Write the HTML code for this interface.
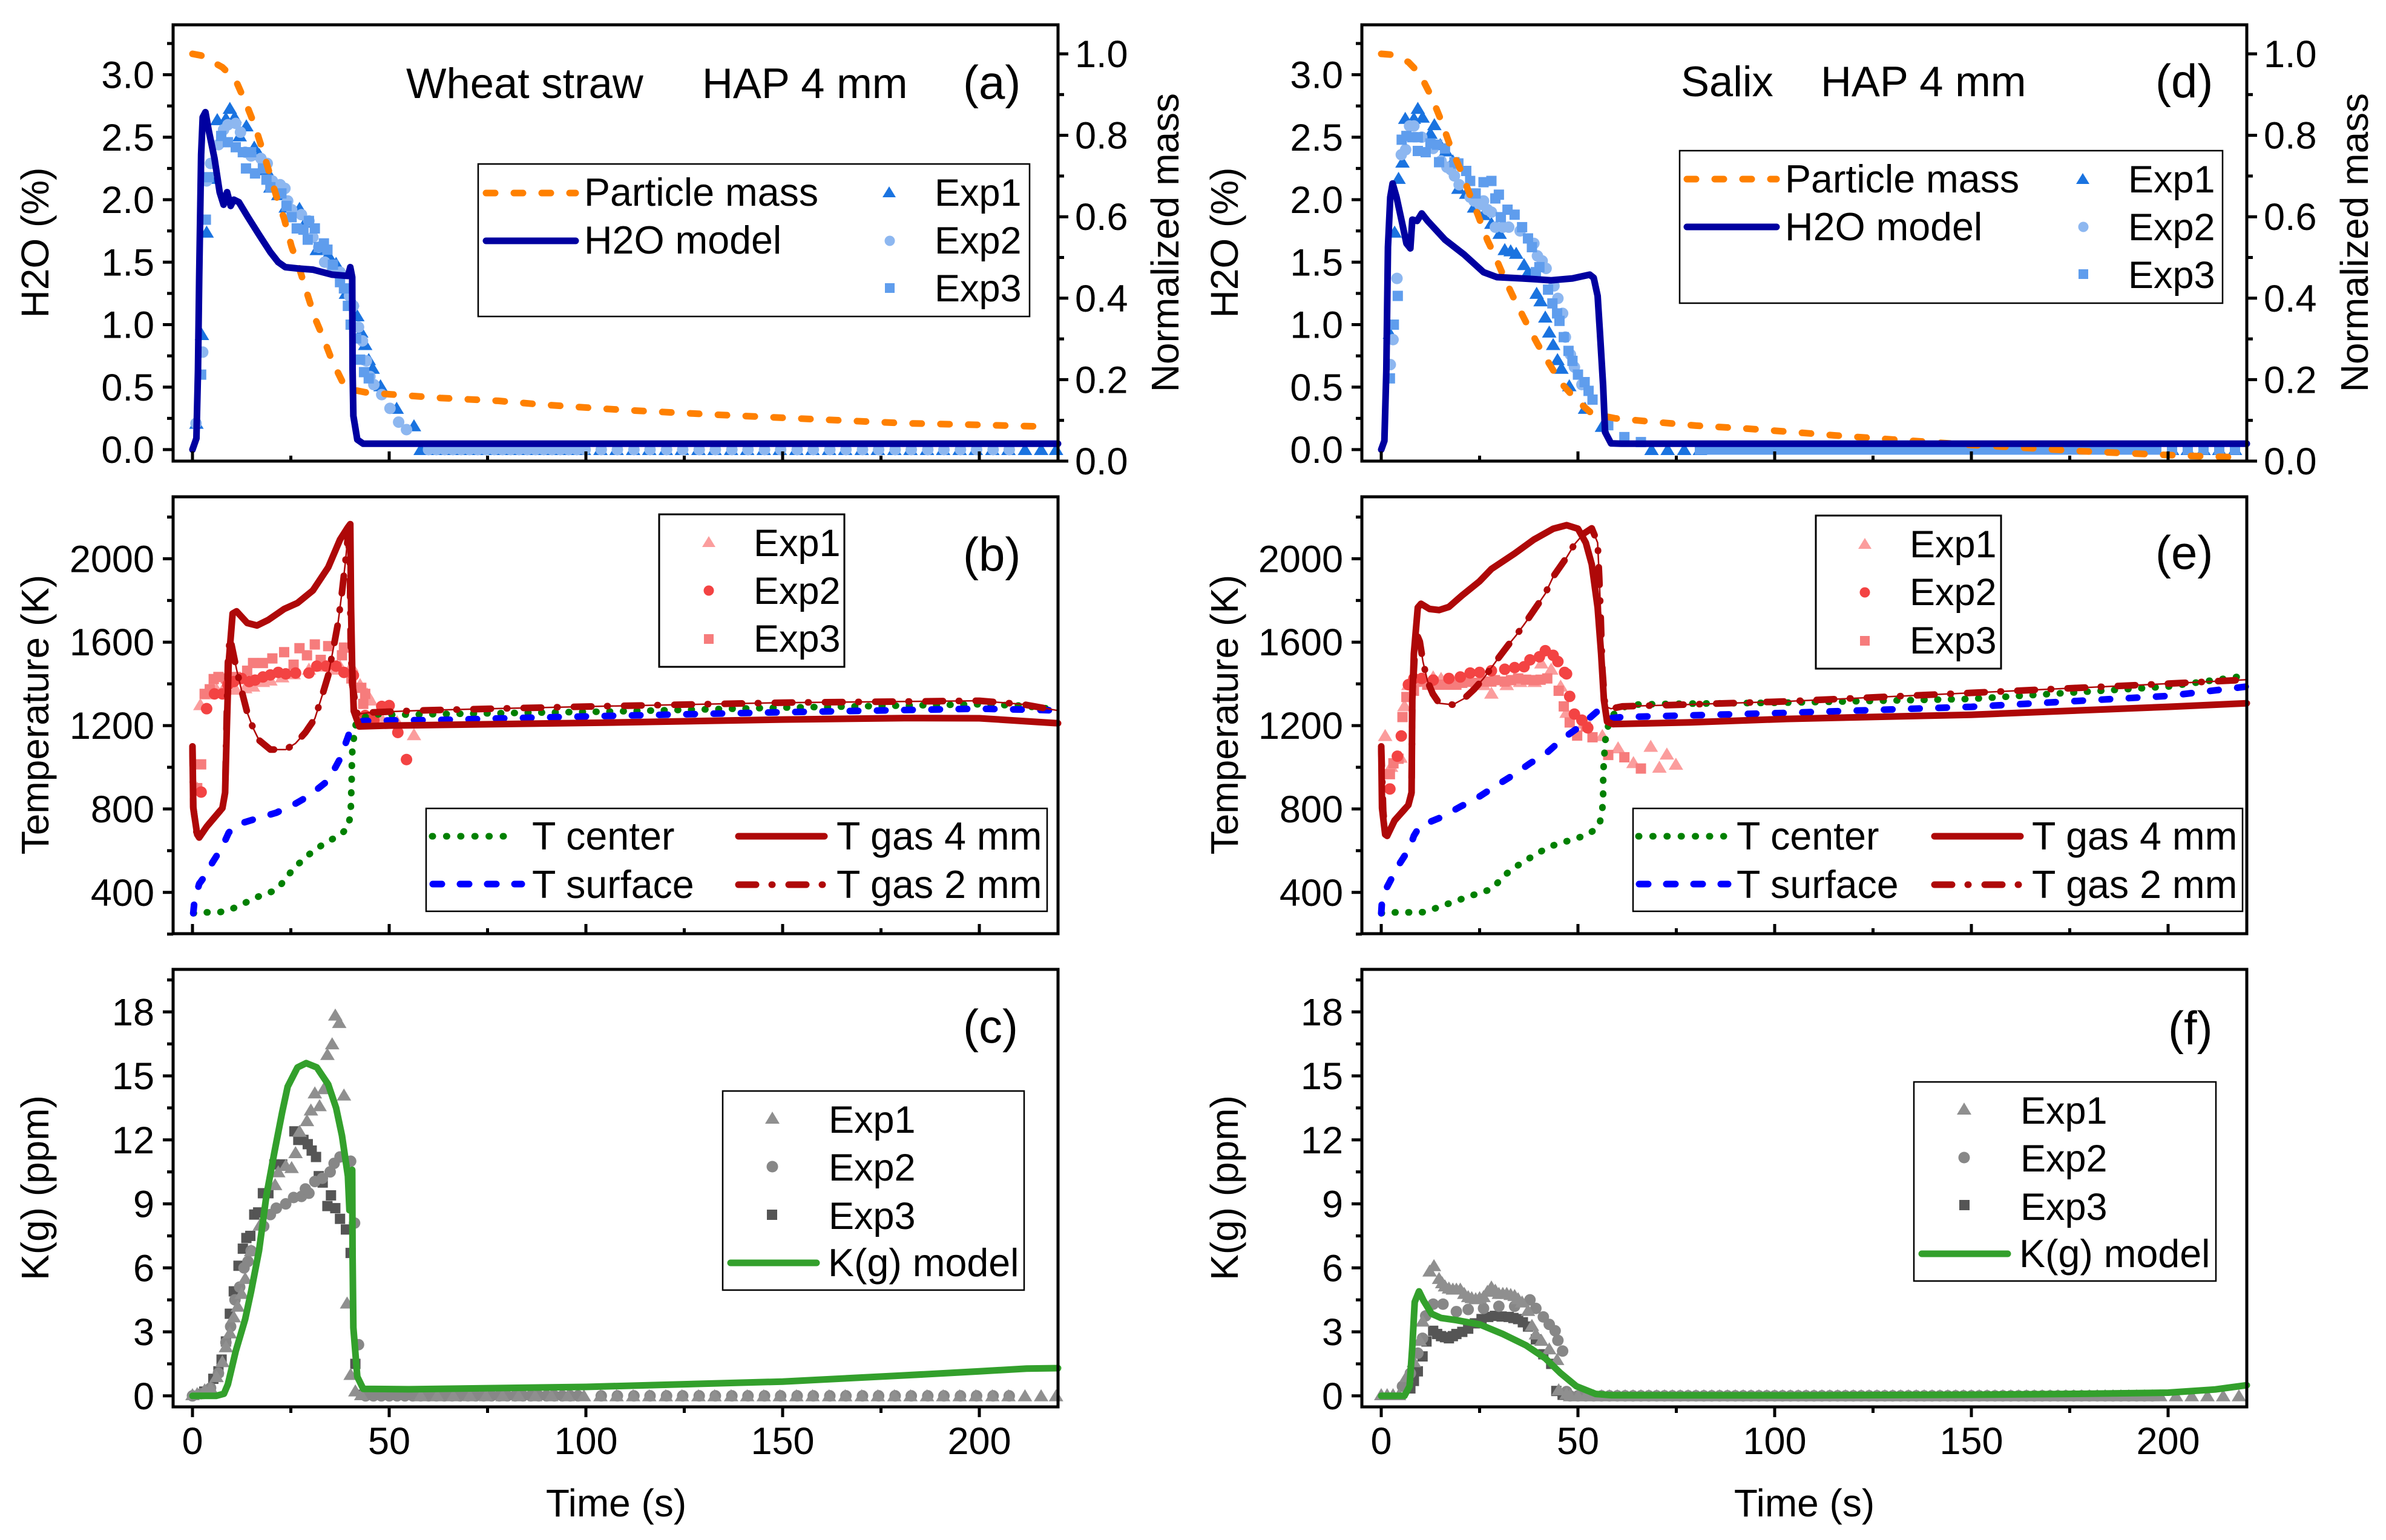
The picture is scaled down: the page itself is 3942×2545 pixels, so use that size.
<!DOCTYPE html>
<html lang="en">
<head>
<meta charset="utf-8">
<title>H2O, temperature and K(g) profiles for wheat straw and salix</title>
<style>
html,body{margin:0;padding:0;background:#fff;}
svg{display:block;}
text{font-family:"Liberation Sans",Arial,sans-serif;fill:#000;}
.t{font-size:63px;}
.lt{font-size:64.5px;}
.at{font-size:64px;}
.an{font-size:78px;}
.ti{font-size:70.5px;}
.lg{fill:#fff;stroke:#000;stroke-width:2.5;}
.ls{fill:none;stroke-linecap:round;stroke-linejoin:round;stroke-width:11;}
</style>
</head>
<body>
<svg id="fig" xmlns="http://www.w3.org/2000/svg" width="3942" height="2545" viewBox="0 0 3942 2545">
<rect width="3942" height="2545" fill="#fff"/>
<g id="plots"></g>

<!-- static titles -->
<text class="at" transform="translate(80 401) rotate(-90)" text-anchor="middle">H2O (%)</text>
<text class="at" transform="translate(80 1181) rotate(-90)" text-anchor="middle">Temperature (K)</text>
<text class="at" transform="translate(80 1963) rotate(-90)" text-anchor="middle">K(g) (ppm)</text>
<text class="at" transform="translate(2045 401) rotate(-90)" text-anchor="middle">H2O (%)</text>
<text class="at" transform="translate(2045 1181) rotate(-90)" text-anchor="middle">Temperature (K)</text>
<text class="at" transform="translate(2045 1963) rotate(-90)" text-anchor="middle">K(g) (ppm)</text>
<text class="at" transform="translate(1947 401) rotate(-90)" text-anchor="middle">Normalized mass</text>
<text class="at" transform="translate(3912 401) rotate(-90)" text-anchor="middle">Normalized mass</text>
<text class="at" x="1018" y="2506" text-anchor="middle">Time (s)</text>
<text class="at" x="2981" y="2506" text-anchor="middle">Time (s)</text>

<!-- annotations -->
<text class="ti" x="671" y="162">Wheat straw</text>
<text class="ti" x="1160" y="162">HAP 4 mm</text>
<text class="an" x="1591" y="163">(a)</text>
<text class="an" x="1591" y="943">(b)</text>
<text class="an" x="1591" y="1723">(c)</text>
<text class="ti" x="2777" y="159">Salix</text>
<text class="ti" x="3008" y="159">HAP 4 mm</text>
<text class="an" x="3561" y="161">(d)</text>
<text class="an" x="3561" y="940">(e)</text>
<text class="an" x="3582" y="1726">(f)</text>

<!-- legend a -->
<g>
<rect class="lg" x="790" y="271" width="911" height="252"/>
<path class="ls" d="M803 319H951" stroke="#ff8000" stroke-dasharray="15 31"/>
<path class="ls" d="M803 398H951" stroke="#0000a0"/>
<text class="lt" x="965" y="340">Particle mass</text>
<text class="lt" x="965" y="419">H2O model</text>
<polygon points="1469,308 1480,326 1458,326" fill="#1a73e0"/>
<circle cx="1470" cy="398" r="8.5" fill="#8db7f0"/>
<rect x="1462" y="468" width="16" height="16" fill="#5f9ded"/>
<text class="t" x="1544" y="340">Exp1</text>
<text class="t" x="1544" y="419">Exp2</text>
<text class="t" x="1544" y="498">Exp3</text>
</g>

<!-- legend d -->
<g>
<rect class="lg" x="2775" y="249" width="897" height="252"/>
<path class="ls" d="M2787 296H2935" stroke="#ff8000" stroke-dasharray="15 31"/>
<path class="ls" d="M2787 375H2935" stroke="#0000a0"/>
<text class="lt" x="2949" y="318">Particle mass</text>
<text class="lt" x="2949" y="397">H2O model</text>
<polygon points="3441,286 3452,304 3430,304" fill="#1a73e0"/>
<circle cx="3442" cy="375" r="8.5" fill="#8db7f0"/>
<rect x="3434" y="445" width="16" height="16" fill="#5f9ded"/>
<text class="t" x="3516" y="318">Exp1</text>
<text class="t" x="3516" y="397">Exp2</text>
<text class="t" x="3516" y="476">Exp3</text>
</g>

<!-- legend b experiments -->
<g>
<rect class="lg" style="stroke-width:3" x="1089" y="850" width="306" height="252"/>
<polygon points="1171,886 1182,904 1160,904" fill="#fb9d9d"/>
<circle cx="1171" cy="976" r="8.5" fill="#f34343"/>
<rect x="1163" y="1048" width="16" height="16" fill="#f67c7c"/>
<text class="t" x="1245" y="919">Exp1</text>
<text class="t" x="1245" y="998">Exp2</text>
<text class="t" x="1245" y="1077">Exp3</text>
</g>

<!-- legend b model -->
<g>
<rect class="lg" x="704" y="1336" width="1026" height="170"/>
<path class="ls" d="M714 1382H854" stroke="#008000" stroke-dasharray="1 22.4"/>
<path class="ls" d="M715 1461H862" stroke="#0000ff" stroke-dasharray="15 30"/>
<text class="lt" x="879" y="1404">T center</text>
<text class="lt" x="879" y="1484">T surface</text>
<path class="ls" d="M1220 1382H1362" stroke="#ae0808"/>
<path class="ls" d="M1220 1462H1362" stroke="#ae0808" stroke-dasharray="29 26 1 27"/>
<text class="lt" x="1382" y="1404">T gas 4 mm</text>
<text class="lt" x="1382" y="1484">T gas 2 mm</text>
</g>

<!-- legend e experiments -->
<g>
<rect class="lg" style="stroke-width:3" x="3000" y="852" width="306" height="253"/>
<polygon points="3081,889 3092,907 3070,907" fill="#fb9d9d"/>
<circle cx="3081" cy="979" r="8.5" fill="#f34343"/>
<rect x="3073" y="1051" width="16" height="16" fill="#f67c7c"/>
<text class="t" x="3155" y="921">Exp1</text>
<text class="t" x="3155" y="1000">Exp2</text>
<text class="t" x="3155" y="1080">Exp3</text>
</g>

<!-- legend e model -->
<g>
<rect class="lg" x="2698" y="1336" width="1007" height="170"/>
<path class="ls" d="M2707 1382H2848" stroke="#008000" stroke-dasharray="1 22.4"/>
<path class="ls" d="M2708 1461H2855" stroke="#0000ff" stroke-dasharray="15 30"/>
<text class="lt" x="2869" y="1404">T center</text>
<text class="lt" x="2869" y="1484">T surface</text>
<path class="ls" d="M3196 1382H3338" stroke="#ae0808"/>
<path class="ls" d="M3196 1462H3338" stroke="#ae0808" stroke-dasharray="29 26 1 27"/>
<text class="lt" x="3357" y="1404">T gas 4 mm</text>
<text class="lt" x="3357" y="1484">T gas 2 mm</text>
</g>

<!-- legend c -->
<g>
<rect class="lg" x="1194" y="1803" width="498" height="329"/>
<polygon points="1276,1837 1288,1857 1264,1857" fill="#8f8f8f"/>
<circle cx="1276" cy="1928" r="9.5" fill="#878787"/>
<rect x="1267" y="1999" width="17" height="17" fill="#555"/>
<path class="ls" d="M1207 2087H1349" stroke="#33a02c"/>
<text class="t" x="1369" y="1872">Exp1</text>
<text class="t" x="1369" y="1951">Exp2</text>
<text class="t" x="1369" y="2031">Exp3</text>
<text class="lt" x="1368" y="2109">K(g) model</text>
</g>

<!-- legend f -->
<g>
<rect class="lg" x="3162" y="1788" width="499" height="329"/>
<polygon points="3245,1822 3257,1842 3233,1842" fill="#8f8f8f"/>
<circle cx="3245" cy="1913" r="9.5" fill="#878787"/>
<rect x="3237" y="1983" width="17" height="17" fill="#555"/>
<path class="ls" d="M3175 2072H3317" stroke="#33a02c"/>
<text class="t" x="3338" y="1857">Exp1</text>
<text class="t" x="3338" y="1936">Exp2</text>
<text class="t" x="3338" y="2016">Exp3</text>
<text class="lt" x="3336" y="2094">K(g) model</text>
</g>
</svg>

<script>
/* ---------- tick labels ---------- */
const timeTicks=[0,50,100,150,200];
const timeMinor=[25,75,125,175];
const h2oTicks=["0.0","0.5","1.0","1.5","2.0","2.5","3.0"];
const h2oMinor=[0.25,0.75,1.25,1.75,2.25,2.75,3.25];
const massTicks=["0.0","0.2","0.4","0.6","0.8","1.0"];
const massMinor=[0.1,0.3,0.5,0.7,0.9];
const tempTicks=[400,800,1200,1600,2000];
const tempMinor=[200,600,1000,1400,1800,2200];
const kTicks=[0,3,6,9,12,15,18];
const kMinor=[1.5,4.5,7.5,10.5,13.5,16.5,19.5];

/* ---------- zero-level experimental tails [time, value] ---------- */
const tailSparse=[[58,0],[62.2,0],[66.3,0],[70.5,0],[74.6,0],[78.8,0],[82.9,0],[87.1,0],[91.2,0],[95.4,0],[99.5,0],[103.7,0],[107.8,0],[112,0],[116.1,0],[120.3,0],[124.4,0],[128.6,0],[132.7,0],[136.9,0],[141,0],[145.2,0],[149.3,0],[153.5,0],[157.6,0],[161.8,0],[165.9,0],[170.1,0],[174.2,0],[178.4,0],[182.5,0],[186.7,0],[190.8,0],[195,0],[199.1,0],[203.3,0],[207.4,0],[211.6,0],[215.7,0],[219.5,0]];
const tailPaired=[[60,0],[62,0],[64.1,0],[66.2,0],[68.3,0],[70.4,0],[72.5,0],[74.6,0],[76.7,0],[78.8,0],[80.9,0],[83,0],[85.1,0],[87.2,0],[89.3,0],[91.4,0],[93.5,0],[95.6,0],[97.7,0],[99.8,0],[103.9,0],[108,0],[112.2,0],[116.3,0],[120.5,0],[124.6,0],[128.8,0],[132.9,0],[137.1,0],[141.2,0],[145.4,0],[149.5,0],[153.7,0],[157.8,0],[162,0],[166.1,0],[170.3,0],[174.4,0],[178.6,0],[182.7,0],[186.9,0],[191,0],[195.2,0],[199.3,0],[203.5,0],[207.6,0]];
const tailEarlyK=[[44,0],[46,0],[48,0],[50,0],[52,0],[54,0],[56,0],[58,0],[60,0],[62,0],[64,0],[66,0],[68,0],[70,0],[72,0],[74,0],[76,0],[78,0],[80,0],[82,0],[84,0],[86,0],[88,0],[90,0],[92,0],[94,0],[96,0],[98,0]];
const tailBand=[[48,0],[50,0],[52,0],[54,0],[56,0],[58,0],[60,0],[62,0],[64,0],[66,0],[68,0],[70,0],[72,0],[74,0],[76,0],[78,0],[80,0],[82,0],[84,0],[86,0],[88,0],[90,0],[92,0],[94,0],[96,0],[98,0],[100,0],[102,0],[104,0],[106,0],[108,0],[110,0],[112,0],[114,0],[116,0],[118,0],[120,0],[122,0],[124,0],[126,0],[128,0],[130,0],[132,0],[134,0],[136,0],[138,0],[140,0],[142,0],[144,0],[146,0],[148,0],[150,0],[152,0],[154,0],[156,0],[158,0],[160,0],[162,0],[164,0],[166,0],[168,0],[170,0],[172,0],[174,0],[176,0],[178,0],[180,0],[182,0],[184,0],[186,0],[188,0],[190,0],[192,0],[194,0],[196,0]];
const tailBandD=[[81,0],[83,0],[85,0],[87,0],[89,0],[91,0],[93,0],[95,0],[97,0],[99,0],[101,0],[103,0],[105,0],[107,0],[109,0],[111,0],[113,0],[115,0],[117,0],[119,0],[121,0],[123,0],[125,0],[127,0],[129,0],[131,0],[133,0],[135,0],[137,0],[139,0],[141,0],[143,0],[145,0],[147,0],[149,0],[151,0],[153,0],[155,0],[157,0],[159,0],[161,0],[163,0],[165,0],[167,0],[169,0],[171,0],[173,0],[175,0],[177,0],[179,0],[181,0],[183,0],[185,0],[187,0],[189,0],[191,0],[193,0],[195,0],[197,0],[201,0],[205,0],[209,0],[213,0],[217,0]];
const tailEndD=[[68.7,0],[72.8,0],[77,0],[81,0],[201,0],[205,0],[209,0],[213,0],[217,0]];
const tailEndF=[[198,0],[202,0],[206,0],[210,0],[214,0],[218,0]];

/* ---------- panel a: wheat straw, H2O and mass ---------- */
const aExp1=[[1,.21],[2.4,.92],[3.6,1.74],[4.6,2.17],[6.3,2.64],[8.5,2.65],[9.5,2.73],[10.7,2.66],[12,2.51],[13.7,2.59],[15.7,2.42],[17,2.36],[18.8,2.24],[19.8,2.1],[21.8,2.04],[23.7,1.94],[27.2,1.93],[28.7,1.82],[31.6,1.6],[34.5,1.56],[36.5,1.49],[37.5,1.42],[39,1.25],[40.6,1.19],[41.9,1.07],[42.9,.94],[43.9,.84],[44.8,.72],[45.8,.65],[47.8,.51],[51.9,.33],[56.3,.19]];
const aExp2=[[.9,.21],[2.6,.78],[3.6,2.15],[4.6,2.29],[6.6,2.44],[7.9,2.56],[9,2.6],[11,2.61],[12.2,2.54],[13.4,2.38],[14.9,2.35],[17.4,2.33],[19,2.29],[20.3,2.15],[22.3,2.12],[23.5,2.09],[24.2,1.99],[25.2,1.92],[27.7,1.88],[29.6,1.83],[30.6,1.7],[32.1,1.62],[33.6,1.5],[35.5,1.46],[37.5,1.42],[39.9,1.23],[40.9,1.15],[42.2,.98],[43.2,.87],[44.2,.71],[45.1,.585],[46.1,.52],[48.1,.44],[50.2,.33],[52.4,.22],[54.4,.16]];
const aExp3=[[2.2,.6],[3.4,1.84],[4.1,2.18],[7.3,2.51],[9,2.46],[11,2.42],[12.8,2.38],[14.9,2.38],[13.6,2.25],[15.9,2.21],[17.9,2.25],[18.8,2.16],[19.8,2.1],[22.6,2.05],[23.9,1.95],[25.2,1.86],[26.5,1.77],[28.2,1.76],[29.6,1.83],[31.1,1.77],[29.3,1.68],[32.1,1.62],[33.4,1.65],[34.3,1.6],[35.7,1.48],[37.5,1.34],[38.5,1.29],[39.5,1.15],[40.2,1],[41.6,.89],[42.6,.72],[43.6,.62],[44.8,.57]];
const aMass=[[0,1],[2.2,.996],[7.6,.967],[11,.935],[13.9,.871],[15.9,.822],[17.9,.761],[19.8,.7],[21.3,.651],[23.3,.595],[25.2,.526],[26.9,.481],[29.1,.413],[31.1,.352],[33.4,.299],[35.5,.246],[38,.197],[39.9,.177],[43.9,.169],[50.2,.164],[63,.155],[77.7,.148],[88.5,.139],[104,.129],[110.6,.125],[133,.114],[153,.105],[180.8,.093],[199.6,.089],[215.6,.085],[218,.084]];
const aH2O=[[0,0],[1,.09],[1.4,.63],[1.7,1.38],[2.2,2.36],[2.6,2.66],[3.3,2.7],[4.1,2.56],[5.6,2.33],[6.9,2.06],[7.9,1.96],[8.8,2.06],[9.7,1.95],[10.5,2],[11.8,1.98],[13.9,1.87],[16.9,1.72],[19.8,1.58],[21.8,1.5],[23.6,1.46],[26.7,1.45],[30.6,1.44],[35.5,1.4],[39.5,1.39],[40.1,1.46],[40.6,1.38],[40.7,.64],[40.9,.27],[41.9,.08],[43.4,.047],[100,.047],[220,.047]];

/* ---------- panel b: wheat straw, temperature ---------- */
const bExp1=[[1.2,900],[2,1300],[4.1,1352],[6.1,1374],[8,1381],[11,1374],[13.4,1381],[15.4,1389],[17.9,1411],[19.8,1418],[22.8,1433],[25.7,1448],[29.6,1470],[32.6,1485],[35.5,1470],[37.5,1485],[40.4,1485],[42.6,1396],[44.4,1352],[45.3,1322],[48.1,1233],[52,1218],[56.3,1156]];
const bExp2=[[2.2,881],[3.6,1281],[5.6,1352],[7.6,1352],[9,1396],[10.5,1411],[12.5,1426],[14.4,1411],[15.9,1418],[17.9,1433],[19.8,1443],[21.8,1455],[23.7,1448],[26.2,1452],[29.6,1452],[31.6,1485],[34,1485],[36.5,1485],[38.5,1455],[40.9,1441],[43.9,1248],[46.1,1226],[48.1,1292],[50,1296],[52.2,1167],[54.4,1037]];
const bExp3=[[2.2,1014],[1.2,900],[3.1,1352],[4.4,1374],[5.4,1423],[6.6,1433],[8.5,1426],[11,1433],[13.9,1463],[15.4,1500],[17.9,1500],[20.3,1522],[23.3,1552],[25.7,1492],[27.2,1571],[29.1,1537],[31.1,1589],[32.6,1515],[34.5,1581],[38,1537],[38.5,1574],[40.4,1426],[42.9,1381],[43.9,1352],[43.4,1304]];
const bCenter=[[.2,300],[3.6,304],[6.9,305],[9.8,319],[12.2,339],[14.9,364],[17,382],[20.1,403],[22.1,427],[23.9,473],[25.9,518],[28.5,564],[30.6,597],[32.8,625],[35.3,653],[37.7,677],[39.5,712],[40.2,774],[40.3,841],[40.4,905],[40.5,971],[40.5,1033],[40.7,1100],[41.2,1162],[41.6,1218],[45.3,1255],[51,1252],[105,1267],[150,1286],[200,1302],[210,1296],[218,1281]];
const bSurface=[[.2,300],[.5,360],[1.7,441],[2.6,464],[4.4,523],[7.6,619],[9.2,686],[11,723],[15.9,752],[21.3,782],[26.2,826],[29.6,863],[34.5,937],[37.5,1041],[39.5,1145],[40.6,1204],[43.4,1222],[54,1226],[61,1226],[75.3,1233],[105,1246],[150,1264],[200,1281],[215,1275],[220,1272]];
const bGas2=[[0,1090],[.2,810],[1,690],[1.6,680],[3.6,715],[7.6,804],[8.3,878],[8.6,1150],[9,1500],[9.5,1625],[11.2,1470],[12.5,1366],[13.9,1263],[15.4,1189],[16.9,1130],[19.8,1085],[23.7,1085],[26.2,1115],[28.7,1167],[31.1,1233],[33.1,1352],[34.5,1441],[36,1589],[37,1692],[38,1840],[38.8,1973],[39.5,2107],[40,2003],[40.2,1618],[40.6,1396],[41.9,1255],[45.3,1263],[49.3,1266],[59,1273],[78.7,1282],[105,1293],[150,1310],[200,1319],[211,1302],[220,1272]];
const bGas4=[[0,1100],[.2,804],[1.2,678],[1.7,663],[3.6,715],[7.6,804],[8.3,878],[8.7,1174],[9.2,1500],[10.2,1737],[11.2,1748],[13.9,1692],[16.4,1680],[19.3,1707],[23.3,1759],[26.7,1788],[30.6,1848],[34.5,1959],[37.5,2092],[39.5,2151],[40.1,2166],[40.3,1766],[40.6,1470],[41,1270],[42.4,1196],[50,1200],[105,1214],[150,1229],[181,1236],[200,1235],[215,1217],[220,1211]];

/* ---------- panel c: wheat straw, K(g) ---------- */
const cExp1=[[0,.05],[1.2,.1],[3.1,.28],[4.6,.37],[6.1,.9],[7.6,1.6],[8.5,2.3],[9.5,2.95],[10.5,3.7],[11.5,4.2],[12.5,4.8],[13.4,5.5],[14.9,6.8],[17.1,8],[21,9.9],[21.8,10.5],[23.7,10.8],[25.2,10.7],[26.2,11.4],[27.2,12.4],[29.1,12.9],[30.1,13.4],[32.3,13.6],[31.1,14.2],[33.4,14.4],[34.3,16],[35.5,16.5],[37.3,17.5],[36.3,17.85],[38.5,14.1],[39.3,4.35],[40.2,1],[41.4,.23],[42.9,.05]];
const cExp2=[[0,0],[2.2,.1],[4.6,.37],[6.6,1.06],[8.5,2.5],[9.7,3.25],[10.8,4.5],[12,5.1],[13.1,6],[14.1,6.3],[14.9,6.8],[18.1,7.95],[19.8,8.5],[21.3,8.8],[23.7,9],[25.7,9.3],[27.7,9.35],[29.6,9.5],[28.7,9.7],[31.1,10.05],[33,10.2],[35,10.5],[36,10.9],[37.5,11.2],[40.2,11],[41.2,8.1],[42.2,2.4],[43.9,.05]];
const cExp3=[[3,.2],[5.3,.8],[6.6,1.15],[7.4,1.7],[8.5,2.55],[9.5,3.85],[10.5,4.9],[11.7,6.1],[12.8,6.9],[13.7,7.4],[14.7,7.5],[15.7,8.5],[16.7,8.6],[17.9,9.5],[19.3,9.5],[20.8,10.85],[22.8,10.85],[25.9,12.4],[26.9,12],[28.2,12],[29.3,11.8],[30.3,11.5],[31.4,11.2],[32.1,10.3],[33.1,10],[35.2,9.4],[34.3,8.9],[36.3,8.8],[37.5,8.3],[39,7.8],[40.2,6.7],[41.4,1.5],[42.9,.05]];
const cModel=[[0,0],[6,0],[8,.1],[9,.54],[11,2.1],[13.4,3.6],[14.9,4.9],[16.9,6.8],[18.8,9.4],[20.8,11.4],[22.8,13.3],[24.2,14.5],[26.7,15.4],[28.9,15.6],[31.6,15.4],[34.5,14.6],[36.5,13.5],[38,12.2],[39.5,10.3],[39.9,8.7],[40.6,10.6],[40.7,6.6],[40.9,3.2],[41.9,.9],[43.4,.33],[55,.31],[100,.42],[150,.67],[180,.95],[200,1.15],[212,1.28],[220,1.3]];

/* ---------- panel d: salix, H2O and mass ---------- */
const dExp1=[[2.2,.93],[3.4,1.74],[4.4,2.17],[5.4,2.3],[6.1,2.65],[8.3,2.65],[9.3,2.73],[10.5,2.66],[12.5,2.53],[13.5,2.6],[15,2.44],[16.4,2.39],[18.2,2.31],[19.6,2.09],[21.6,2.05],[23.6,1.94],[26,1.88],[28,1.81],[30.1,1.73],[31.4,1.6],[32.9,1.59],[34.3,1.57],[36.3,1.48],[37.3,1.42],[39.5,1.25],[40.5,1.19],[41.7,1.06],[42.7,.94],[43.7,.84],[44.8,.72],[45.8,.65],[47.8,.51],[51.8,.33],[56.1,.185]];
const dExp2=[[2.3,.68],[3,.88],[4,1.37],[5.1,2.36],[6.2,2.4],[7.2,2.59],[8.3,2.59],[10.3,2.5],[13.2,2.41],[15.2,2.31],[16.7,2.26],[17.7,2.24],[18.6,2.19],[19.8,2.12],[22.6,2.02],[23.6,1.99],[25,1.96],[26,1.99],[27,1.92],[28,1.9],[29,1.78],[30.9,1.78],[32.4,1.78],[35.3,1.75],[38.8,1.65],[39.7,1.55],[40.9,1.51],[41.9,1.45],[43.9,1.31],[44.9,1.21],[46.1,1.09],[46.8,.9],[48.1,.76],[49.1,.66],[51,.52]];
const dExp3=[[2.2,.57],[3.2,1],[4.2,1.23],[5.2,2.48],[6.4,2.51],[7.9,2.5],[9.3,2.5],[9.3,2.39],[11.3,2.38],[12.5,2.45],[14.2,2.44],[14.7,2.3],[16.2,2.41],[18.6,2.3],[19.6,2.29],[21.6,2.23],[22.6,2.15],[24,2.05],[26,2.14],[28,2.15],[29,2.01],[29.9,2.04],[32.1,1.92],[33.9,1.88],[30.4,1.86],[35.8,1.78],[37.3,1.69],[38.3,1.62],[40.2,1.46],[39.3,1.42],[42.4,1.28],[43.5,1.17],[44.7,1.09],[45.3,1.03],[46.4,.9],[47.6,.79],[48.6,.71],[50,.6],[51.7,.54],[52.7,.47],[53.7,.4],[57.7,.195],[61.8,.1],[66,.06]];
const dMass=[[0,1],[2.5,.998],[6.9,.98],[9.8,.951],[12.8,.894],[15.2,.837],[17.7,.769],[20.1,.716],[22.6,.652],[24.5,.606],[27,.542],[28.9,.504],[31.4,.447],[34,.394],[36.8,.341],[39.7,.288],[42.7,.239],[45.6,.193],[49.6,.15],[53.5,.117],[59.4,.105],[67.2,.098],[80,.087],[92.7,.08],[103.5,.072],[115.4,.063],[130,.053],[149.5,.04],[163,.033],[176.7,.025],[190,.019],[204.9,.013],[218.5,.009]];
const dH2O=[[0,0],[.8,.07],[1.3,.63],[1.7,1.62],[2.3,2.02],[2.9,2.13],[3.9,2.02],[5.4,1.8],[6.4,1.65],[7.4,1.61],[7.9,1.84],[9.1,1.83],[10.3,1.89],[11.8,1.83],[16.2,1.68],[21.1,1.56],[26,1.42],[29.4,1.38],[35.8,1.37],[43.2,1.355],[48.6,1.37],[53,1.4],[54,1.375],[55,1.23],[55.6,.93],[56.4,.51],[56.9,.14],[58.4,.05],[61,.047],[220,.047]];

/* ---------- panel e: salix, temperature ---------- */
const eExp1=[[1,1152],[2.5,1004],[4.9,1048],[5.9,1295],[6.9,1396],[8.3,1411],[10.3,1418],[13.2,1433],[15.2,1426],[18.2,1411],[22.1,1411],[26,1396],[28,1355],[31.9,1396],[35.3,1411],[39,1411],[40.7,1500],[43.2,1470],[45.6,1389],[47.1,1263],[51.5,1211],[56.2,1152],[60.2,1093],[64.1,1022],[68.5,1100],[70.7,1000],[72.6,1063],[74.9,1014]];
const eExp2=[[2.2,896],[5.1,1150],[4.1,1053],[6.9,1396],[8.3,1426],[10.3,1426],[13.2,1418],[17.2,1426],[20.1,1433],[22.6,1452],[25,1455],[28,1463],[31.4,1470],[33.9,1478],[36.3,1482],[37.8,1515],[40.2,1530],[41.7,1559],[43.7,1537],[44.9,1507],[46.6,1455],[47.1,1448],[47.9,1340],[49.1,1255],[51,1226],[52.5,1189]];
const eExp3=[[2.2,967],[3.1,1019],[4.4,1041],[5.4,1241],[6.4,1337],[8.3,1367],[10.3,1411],[11.7,1396],[13.2,1396],[14.7,1396],[16.2,1396],[17.7,1396],[19.1,1396],[20.6,1405],[22.1,1411],[24,1405],[26,1411],[28,1411],[28.9,1418],[31.4,1411],[33,1418],[34.8,1426],[36.8,1420],[38.8,1418],[40.5,1420],[42.2,1426],[45.1,1367],[46.4,1292],[47.9,1215],[49.8,1152],[52,1196],[53.7,1144],[57.7,1059],[61.8,1048],[66,994]];
const eCenter=[[0,300],[3.6,304],[7.1,304],[10.5,305],[13.1,319],[15.7,338],[18,351],[20.1,366],[22.4,382],[25.1,397],[28,416],[30.1,456],[31.9,490],[34.2,523],[36.6,552],[39,579],[41.3,604],[43.7,625],[46.4,641],[49.1,656],[52,674],[54.3,700],[55.6,737],[56.2,801],[56.4,866],[56.4,930],[56.5,996],[56.7,1058],[56.9,1122],[57.4,1181],[58.4,1241],[60.4,1278],[63.3,1300],[73,1304],[103,1310],[150,1328],[200,1387],[220,1440]];
const eSurface=[[0,300],[.2,360],[1.5,427],[4.4,530],[7.2,612],[8.3,671],[9.8,718],[15.2,760],[20.1,811],[25,860],[28.9,908],[33.9,967],[37.8,1019],[42.2,1071],[46.1,1137],[50.5,1196],[55,1270],[56.9,1233],[61.3,1241],[82.9,1251],[103,1261],[150,1290],[200,1342],[220,1387]];
const eGas2=[[0,1090],[.5,789],[1,686],[1.6,680],[3.4,745],[6.9,819],[7.7,878],[7.9,1322],[8.8,1648],[9.8,1603],[10.6,1507],[11.8,1411],[13.1,1352],[14.7,1307],[18.2,1300],[21.1,1330],[23.6,1374],[26,1426],[29.7,1522],[32.4,1589],[34.3,1633],[36.6,1692],[39.3,1766],[41.7,1833],[43.7,1914],[47.1,2006],[49.1,2069],[51.5,2121],[53.5,2146],[55,2077],[55.4,1914],[55.7,1766],[56.2,1470],[56.9,1292],[58.4,1281],[61.3,1292],[73,1298],[103,1316],[150,1357],[200,1401],[220,1420]];
const eGas4=[[0,1100],[.2,804],[1,678],[1.5,671],[3.4,745],[6.9,819],[7.7,878],[7.9,1322],[8.3,1544],[9.3,1766],[10.1,1784],[12.3,1759],[14.7,1754],[17.2,1769],[20.6,1825],[25,1892],[28,1951],[33.9,2025],[38.8,2092],[43.7,2144],[47.1,2161],[50,2144],[52,2077],[53.5,1973],[55,1766],[55.9,1544],[56.6,1322],[57.4,1219],[58.9,1207],[78,1215],[103,1232],[150,1252],[200,1290],[220,1307]];

/* ---------- panel f: salix, K(g) ---------- */
const fExp1=[[0,.05],[1.5,.05],[3,.05],[4.5,.05],[6.4,.9],[8.3,1.6],[9.8,2.6],[10.5,3.5],[12.3,5.85],[13.4,6.1],[14.7,5.5],[15.5,5.3],[16.2,5.15],[17.2,5.05],[18.2,5],[19.1,5],[20.1,5],[21.1,4.8],[22.1,4.65],[23,4.6],[24,4.55],[25,4.6],[26,4.65],[27,4.9],[28,5.1],[29,4.95],[29.9,4.8],[30.9,4.8],[31.9,4.8],[32.9,4.75],[33.9,4.7],[34.8,4.55],[35.8,4.4],[37.3,4],[38.3,3.3],[39.3,2.9],[40.7,2.6],[42.7,2.2],[44.7,1.7],[45.1,.28],[47.1,.1]];
const fExp2=[[5.4,.45],[7.4,1.06],[9.3,2],[10.5,2.7],[11.3,3.75],[13.2,4.3],[15.7,4.3],[19.1,3.95],[22.1,4.05],[26,4.1],[29.9,4.2],[33.9,4.2],[37.8,4.5],[39.3,4.1],[41.2,3.7],[42.7,3.35],[44.2,3.05],[44.9,2.6],[46.1,2.1],[47.1,.2]];
const fExp3=[[7.4,.35],[8.3,.7],[9.3,1.15],[10.5,1.85],[11.5,2.55],[13.2,3.05],[14.2,2.9],[15.2,2.8],[16.2,2.75],[17.2,2.7],[18.2,2.8],[19.1,2.9],[20.6,3],[22.1,3.15],[23.8,3.4],[25.5,3.6],[27.2,3.7],[28.9,3.75],[30.6,3.72],[32.4,3.7],[33.6,3.65],[34.8,3.6],[36,3.45],[37.3,3.25],[39.3,2.65],[41.2,1.95],[43.2,1.5],[44.5,.23],[46.1,.05]];
const fModel=[[0,0],[5.9,0],[7.2,.45],[7.9,2.3],[8.5,4.4],[9.6,4.9],[10.8,4.45],[12.8,3.85],[15.2,3.65],[19.1,3.55],[25,3.35],[30.9,2.9],[36.8,2.37],[41.7,1.76],[45.6,1.06],[49.6,.45],[54.5,.09],[58.4,.03],[103.5,.02],[150,.05],[180,.1],[200,.15],[212,.3],[220,.5]];

/* ---------- axis functions ---------- */
const xLeft=t=>318+6.5*t;
const xRight=t=>2282+6.5*t;
const yH2O=v=>743-206.5*v;
const yMass=v=>762-673*v;
const yTemp=v=>923.4-0.3446*(v-2000);
const yK=v=>2306.8-35.25*v;

/* ---------- drawing helpers ---------- */
const NS='http://www.w3.org/2000/svg';
const root=document.getElementById('plots');
function mk(tag,attrs,parent){
  const e=document.createElementNS(NS,tag);
  for(const k in attrs)e.setAttribute(k,attrs[k]);
  parent.appendChild(e);
  return e;
}
function drawSeries(g,pts,xf,yf,stroke,dash,name,width){
  const d=pts.map((p,i)=>(i?'L':'M')+xf(p[0]).toFixed(1)+' '+yf(p[1]).toFixed(1)).join('');
  const attrs={d:d,fill:'none',stroke:stroke,'stroke-width':width||11,'stroke-linecap':'round','stroke-linejoin':'round'};
  if(dash)attrs['stroke-dasharray']=dash;
  const el=mk('path',attrs,g);
  
  
}
function drawMarkers(g,pts,xf,yf,shape,color,name){
  pts.forEach(p=>{
    const x=xf(p[0]),y=yf(p[1]);
    let el;
    if(shape==='tri')el=mk('polygon',{points:x+','+(y-11)+' '+(x+12)+','+(y+9)+' '+(x-12)+','+(y+9),fill:color},g);
    else if(shape==='cir')el=mk('circle',{cx:x,cy:y,r:9.5,fill:color},g);
    else el=mk('rect',{x:x-8.5,y:y-8.5,width:17,height:17,fill:color},g);
    
    
  });
}
function tick(g,x1,y1,x2,y2,width,name){
  const el=mk('line',{x1:x1,y1:y1,x2:x2,y2:y2,stroke:'#000','stroke-width':width},g);
  
  
}
function label(g,x,y,txt,anchor,name){
  const el=mk('text',{x:x,y:y,'text-anchor':anchor,class:'t'},g);
  el.textContent=txt;
  
  
}
function drawFrame(g,xl,xr,yt,yb,name){
  const el=mk('rect',{x:xl,y:yt,width:xr-xl,height:yb-yt,fill:'none',stroke:'#000','stroke-width':5},g);
  
  
}
function leftAxis(g,xl,yf,major,minor,pid){
  major.forEach(v=>{
    tick(g,xl-17,yf(+v),xl,yf(+v),5,pid+'-y-tick');
    label(g,xl-31,yf(+v)+22,String(v),'end',pid+'-y-tick-label');
  });
  minor.forEach(v=>tick(g,xl-10,yf(v),xl,yf(v),5,pid+'-y-minor-tick'));
}
function rightAxis(g,xr,yf,major,minor,pid){
  major.forEach(v=>{
    tick(g,xr,yf(+v),xr+17,yf(+v),5,pid+'-right-tick');
    label(g,xr+28,yf(+v)+22,String(v),'start',pid+'-right-tick-label');
  });
  minor.forEach(v=>tick(g,xr,yf(v),xr+10,yf(v),5,pid+'-right-minor-tick'));
}
function bottomAxisInside(g,xf,yb,major,minor,pid){
  major.forEach(v=>tick(g,xf(v),yb-16,xf(v),yb,5,pid+'-x-tick'));
  minor.forEach(v=>tick(g,xf(v),yb-9,xf(v),yb,5,pid+'-x-minor-tick'));
}
function bottomAxisLabelled(g,xf,yb,major,minor,pid){
  major.forEach(v=>{
    tick(g,xf(v),yb,xf(v),yb+17,5,pid+'-x-tick');
    label(g,xf(v),2403,String(v),'middle',pid+'-x-tick-label');
  });
  minor.forEach(v=>tick(g,xf(v),yb,xf(v),yb+10,5,pid+'-x-minor-tick'));
}
function panelGroup(name){
  const g=mk('g',{},root);
  
  
  return g;
}

const BLUE1='#1a73e0',BLUE2='#8db7f0',BLUE3='#5f9ded';
const RED1='#fb9d9d',RED2='#f34343',RED3='#f67c7c';
const GRAY1='#8f8f8f',GRAY2='#878787',GRAY3='#555555';
const ORANGE='#ff8000',NAVY='#0000a0',DGREEN='#008000',PBLUE='#0000ff',DRED='#ae0808',KGREEN='#33a02c';
const DASH_MASS='15 31',DASH_SURF='14 31',DASH_CENTER='1 21.5',DASH_GAS2='29 26 1 27';

/* panel a */
let g=panelGroup('panel-a');
drawMarkers(g,aExp1,xLeft,yH2O,'tri',BLUE1,'a-exp1-point');
drawMarkers(g,tailSparse,xLeft,yH2O,'tri',BLUE1,'a-exp1-point');
drawMarkers(g,aExp2,xLeft,yH2O,'cir',BLUE2,'a-exp2-point');
drawMarkers(g,tailPaired,xLeft,yH2O,'cir',BLUE2,'a-exp2-point');
drawMarkers(g,aExp3,xLeft,yH2O,'sq',BLUE3,'a-exp3-point');
drawSeries(g,aMass,xLeft,yMass,ORANGE,DASH_MASS,'a-particle-mass-line');
drawSeries(g,aH2O,xLeft,yH2O,NAVY,null,'a-h2o-model-line');
leftAxis(g,286,yH2O,h2oTicks,h2oMinor,'a');
rightAxis(g,1748,yMass,massTicks,massMinor,'a');
bottomAxisInside(g,xLeft,762,timeTicks,timeMinor,'a');
drawFrame(g,286,1748,41,762,'a-frame');

/* panel b */
g=panelGroup('panel-b');
drawMarkers(g,bExp1,xLeft,yTemp,'tri',RED1,'b-exp1-point');
drawMarkers(g,bExp3,xLeft,yTemp,'sq',RED3,'b-exp3-point');
drawMarkers(g,bExp2,xLeft,yTemp,'cir',RED2,'b-exp2-point');
drawSeries(g,bCenter,xLeft,yTemp,DGREEN,DASH_CENTER,'b-t-center-line');
drawSeries(g,bSurface,xLeft,yTemp,PBLUE,DASH_SURF,'b-t-surface-line');
drawSeries(g,bGas2,xLeft,yTemp,DRED,null,'b-t-gas-2mm-thin-line',2.5);
drawSeries(g,bGas2,xLeft,yTemp,DRED,DASH_GAS2,'b-t-gas-2mm-line');
drawSeries(g,bGas4,xLeft,yTemp,DRED,null,'b-t-gas-4mm-line');
leftAxis(g,286,yTemp,tempTicks,tempMinor,'b');
bottomAxisInside(g,xLeft,1543,timeTicks,timeMinor,'b');
drawFrame(g,286,1748,821,1543,'b-frame');

/* panel c */
g=panelGroup('panel-c');
drawMarkers(g,cExp3,xLeft,yK,'sq',GRAY3,'c-exp3-point');
drawMarkers(g,tailEarlyK,xLeft,yK,'cir',GRAY2,'c-exp2-point');
drawMarkers(g,cExp2,xLeft,yK,'cir',GRAY2,'c-exp2-point');
drawMarkers(g,tailPaired.slice(20),xLeft,yK,'cir',GRAY2,'c-exp2-point');
drawMarkers(g,cExp1,xLeft,yK,'tri',GRAY1,'c-exp1-point');
drawMarkers(g,tailSparse,xLeft,yK,'tri',GRAY1,'c-exp1-point');
drawSeries(g,cModel,xLeft,yK,KGREEN,null,'c-k-model-line');
leftAxis(g,286,yK,kTicks,kMinor,'c');
bottomAxisLabelled(g,xLeft,2325,timeTicks,timeMinor,'c');
drawFrame(g,286,1748,1602,2325,'c-frame');

/* panel d */
g=panelGroup('panel-d');
drawMarkers(g,dExp1,xRight,yH2O,'tri',BLUE1,'d-exp1-point');
drawMarkers(g,tailEndD,xRight,yH2O,'tri',BLUE1,'d-exp1-point');
drawMarkers(g,dExp2,xRight,yH2O,'cir',BLUE2,'d-exp2-point');
drawMarkers(g,dExp3,xRight,yH2O,'sq',BLUE3,'d-exp3-point');
drawMarkers(g,tailBandD,xRight,yH2O,'sq',BLUE3,'d-exp3-point');
drawSeries(g,dMass,xRight,yMass,ORANGE,DASH_MASS,'d-particle-mass-line');
drawSeries(g,dH2O,xRight,yH2O,NAVY,null,'d-h2o-model-line');
leftAxis(g,2250,yH2O,h2oTicks,h2oMinor,'d');
rightAxis(g,3712,yMass,massTicks,massMinor,'d');
bottomAxisInside(g,xRight,762,timeTicks,timeMinor,'d');
drawFrame(g,2250,3712,41,762,'d-frame');

/* panel e */
g=panelGroup('panel-e');
drawMarkers(g,eExp1,xRight,yTemp,'tri',RED1,'e-exp1-point');
drawMarkers(g,eExp3,xRight,yTemp,'sq',RED3,'e-exp3-point');
drawMarkers(g,eExp2,xRight,yTemp,'cir',RED2,'e-exp2-point');
drawSeries(g,eCenter,xRight,yTemp,DGREEN,DASH_CENTER,'e-t-center-line');
drawSeries(g,eSurface,xRight,yTemp,PBLUE,DASH_SURF,'e-t-surface-line');
drawSeries(g,eGas2,xRight,yTemp,DRED,null,'e-t-gas-2mm-thin-line',2.5);
drawSeries(g,eGas2,xRight,yTemp,DRED,DASH_GAS2,'e-t-gas-2mm-line');
drawSeries(g,eGas4,xRight,yTemp,DRED,null,'e-t-gas-4mm-line');
leftAxis(g,2250,yTemp,tempTicks,tempMinor,'e');
bottomAxisInside(g,xRight,1543,timeTicks,timeMinor,'e');
drawFrame(g,2250,3712,821,1543,'e-frame');

/* panel f */
g=panelGroup('panel-f');
drawMarkers(g,fExp3,xRight,yK,'sq',GRAY3,'f-exp3-point');
drawMarkers(g,fExp2,xRight,yK,'cir',GRAY2,'f-exp2-point');
drawMarkers(g,tailBand,xRight,yK,'cir',GRAY2,'f-exp2-point');
drawMarkers(g,fExp1,xRight,yK,'tri',GRAY1,'f-exp1-point');
drawMarkers(g,tailBand,xRight,yK,'tri',GRAY1,'f-exp1-point');
drawMarkers(g,tailEndF,xRight,yK,'tri',GRAY1,'f-exp1-point');
drawSeries(g,fModel,xRight,yK,KGREEN,null,'f-k-model-line');
leftAxis(g,2250,yK,kTicks,kMinor,'f');
bottomAxisLabelled(g,xRight,2325,timeTicks,timeMinor,'f');
drawFrame(g,2250,3712,1602,2325,'f-frame');
</script>
</body>
</html>
